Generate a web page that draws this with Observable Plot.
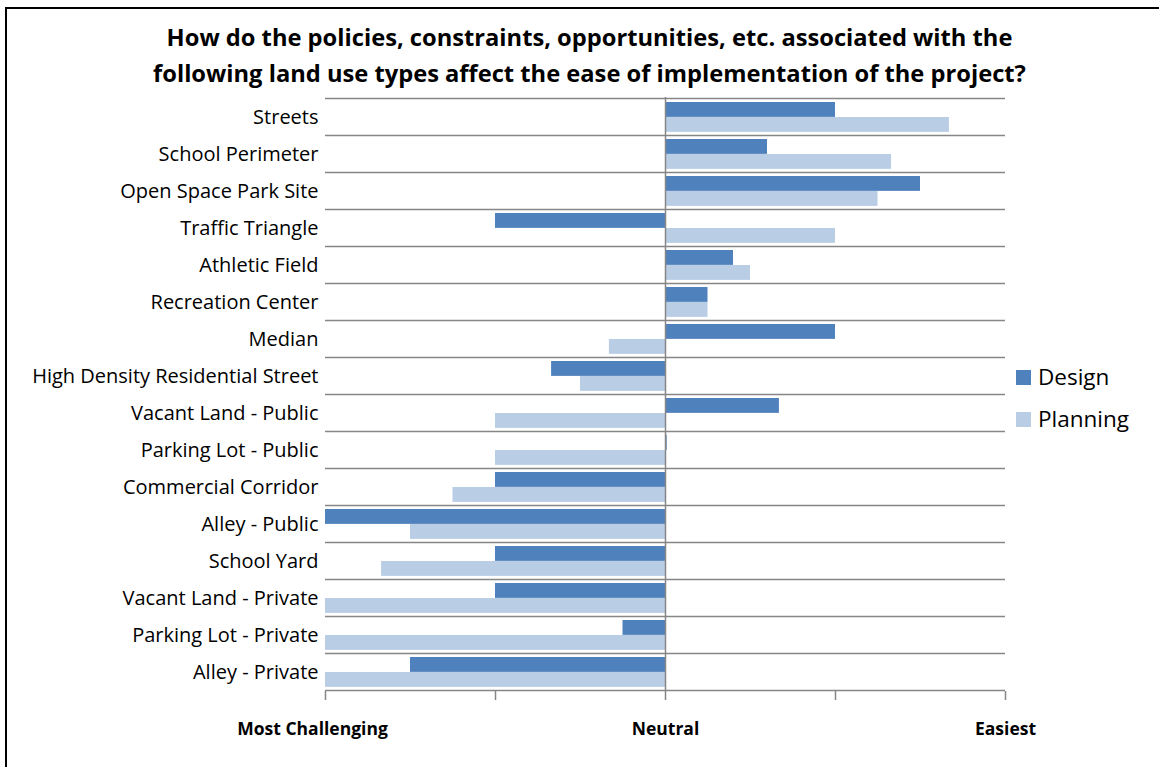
<!DOCTYPE html>
<html>
<head>
<meta charset="utf-8">
<script src="https://cdn.jsdelivr.net/npm/d3@7"></script>
<script src="https://cdn.jsdelivr.net/npm/@observablehq/plot@0.6"></script>
<style>
  html, body { margin: 0; padding: 0; background: #fff; }
  body { width: 1159px; height: 767px; position: relative; overflow: hidden; font-family: "Open Sans", sans-serif; }
  #frame { position: absolute; left: 5px; top: 7px; width: 1170px; height: 780px; border-left: 2px solid #000; border-top: 2px solid #000; }
  #title { position: absolute; left: 0; top: 19px; width: 1179px; text-align: center; font-weight: bold; font-size: 23.7px; line-height: 36px; color: #000; }
  #chart { position: absolute; left: 0; top: 0; }
  .legend { position: absolute; left: 1016px; font-size: 22.5px; line-height: 28px; color: #000; display: flex; align-items: center; }
  .legend span.sw { display: inline-block; width: 15px; height: 15px; margin-right: 7px; }
</style>
</head>
<body>
<div id="frame"></div>
<div id="chart"></div>
<div id="title">How do the policies, constraints, opportunities, etc. associated with the<br>following land use types affect the ease of implementation of the project?</div>
<div class="legend" style="top:363px"><span class="sw" style="background:#4f81bd"></span>Design</div>
<div class="legend" style="top:405px"><span class="sw" style="background:#b9cde5"></span>Planning</div>
<script>
const categories = [
  "Streets", "School Perimeter", "Open Space Park Site", "Traffic Triangle",
  "Athletic Field", "Recreation Center", "Median", "High Density Residential Street",
  "Vacant Land - Public", "Parking Lot - Public", "Commercial Corridor", "Alley - Public",
  "School Yard", "Vacant Land - Private", "Parking Lot - Private", "Alley - Private"
];
const designValues =   [1.0, 0.6, 1.5, -1.0, 0.4, 0.25, 1.0, -0.67, 0.67, 0.01, -1.0, -2.0, -1.0, -1.0, -0.25, -1.5];
const planningValues = [1.67, 1.33, 1.25, 1.0, 0.5, 0.25, -0.33, -0.5, -1.0, -1.0, -1.25, -1.5, -1.67, -2.0, -2.0, -2.0];
const tickValues = [-2, -1, 0, 1, 2];
const tickLabels = {"-2": "Most Challenging", "0": "Neutral", "2": "Easiest"};

const design = categories.map((c, i) => ({category: c, value: designValues[i]}));
const planning = categories.map((c, i) => ({category: c, value: planningValues[i]}));

const marginTop = 97, marginBottom = 76, H = 767;
const bw = (H - marginTop - marginBottom) / categories.length;
const grey = "#868686";

const plot = Plot.plot({
  width: 1159,
  height: H,
  marginLeft: 325,
  marginRight: 154,
  marginTop,
  marginBottom,
  style: {fontFamily: "Open Sans, sans-serif", fontSize: "20px", color: "#000", background: "transparent"},
  x: {domain: [-2, 2]},
  y: {domain: categories, padding: 0},
  marks: [
    Plot.ruleY(categories, {y: d => d, dy: -bw / 2, stroke: grey, strokeWidth: 1.5, x1: -2, x2: 2}),
    Plot.ruleY(categories.slice(-1), {y: d => d, dy: bw / 2, stroke: grey, strokeWidth: 1.5, x1: -2, x2: 2}),
    Plot.barX(design, {x: "value", y: "category", fill: "#4f81bd", insetTop: 4, insetBottom: bw - 19}),
    Plot.barX(planning, {x: "value", y: "category", fill: "#b9cde5", insetTop: 19, insetBottom: bw - 34}),
    Plot.ruleX([0], {stroke: grey, strokeWidth: 1.5}),
    Plot.axisY({tickSize: 0, tickPadding: 7, label: null, fontSize: 20, dy: 1}),
    Plot.axisX({ticks: tickValues, tickSize: 9, stroke: grey, strokeWidth: 1.5, tickFormat: () => "", label: null}),
    Plot.axisX({ticks: [0, 2], tickSize: 0, tickPadding: 31, tickFormat: d => tickLabels[d], label: null, fontWeight: "bold", fontSize: 17.5}),
    Plot.axisX({ticks: [-2], tickSize: 0, tickPadding: 31, dx: -13, tickFormat: d => tickLabels[d], label: null, fontWeight: "bold", fontSize: 17.5})
  ]
});
document.getElementById("chart").appendChild(plot);
</script>
</body>
</html>
